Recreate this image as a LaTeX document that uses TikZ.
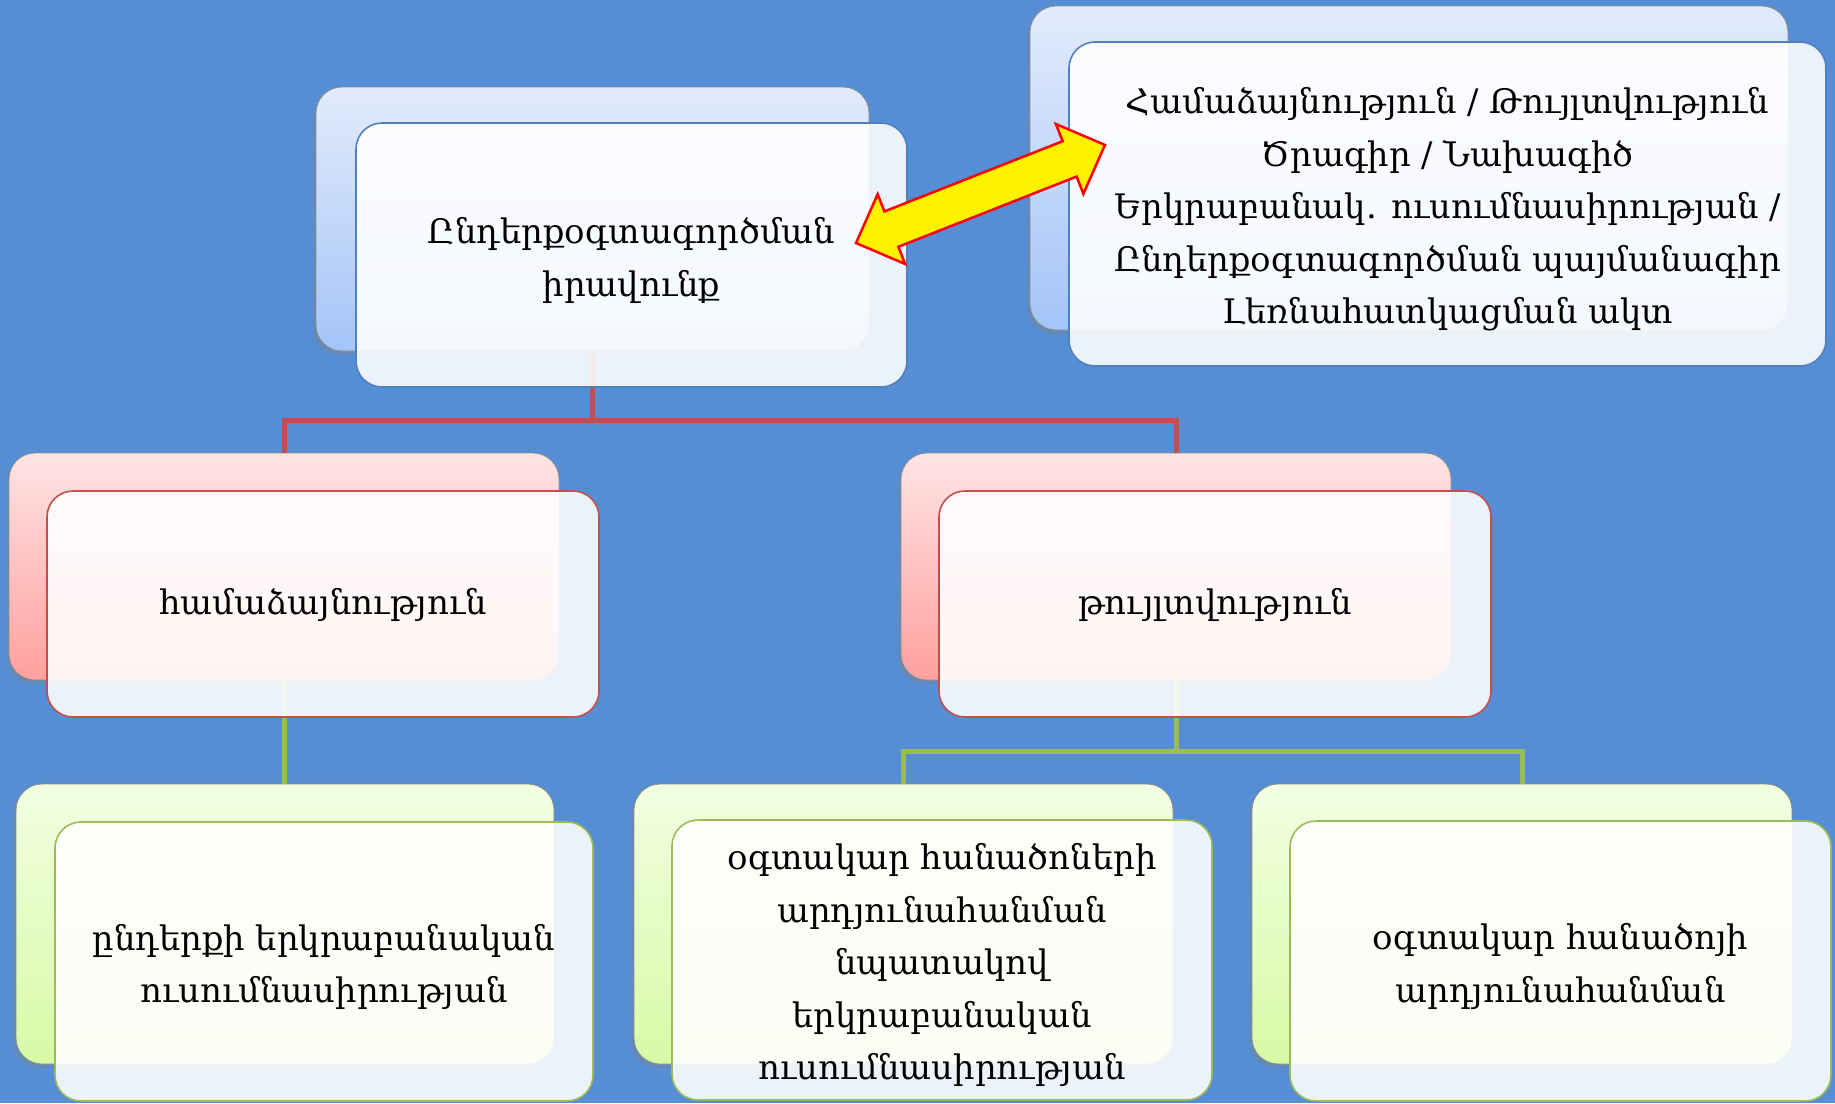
\documentclass[tikz,border=0pt]{standalone}
\usepackage{fontspec}
\setmainfont{DejaVu Serif}
\usetikzlibrary{shadows}
\definecolor{bgblue}{RGB}{85,142,213}
\definecolor{bluetop}{RGB}{226,235,251}
\definecolor{bluebot}{RGB}{164,196,248}
\definecolor{redtop}{RGB}{255,228,228}
\definecolor{redbot}{RGB}{255,160,158}
\definecolor{greentop}{RGB}{242,255,226}
\definecolor{greenbot}{RGB}{214,250,165}
\definecolor{blueline}{RGB}{79,129,189}
\definecolor{redline}{RGB}{192,80,77}
\definecolor{greenline}{RGB}{155,187,89}
\tikzset{
  backbox/.style={rounded corners=26pt, inner sep=0pt, outer sep=0pt,
    draw=black!45, line width=0.8pt,
    drop shadow={shadow xshift=-3pt, shadow yshift=-4pt, opacity=0.35}},
  bluebox/.style={backbox, top color=bluetop, bottom color=bluebot},
  redbox/.style={backbox, top color=redtop, bottom color=redbot},
  greenbox/.style={backbox, top color=greentop, bottom color=greenbot},
  frontbox/.style={rounded corners=26pt, inner sep=0pt, outer sep=0pt,
    fill=white, fill opacity=0.89, text opacity=1, line width=1.6pt,
    align=center, font=\fontsize{33.8}{52.5}\selectfont},
  redconn/.style={draw=redline, line width=5pt},
  greenconn/.style={draw=greenline, line width=5pt},
  blockarrow/.style={fill=yellow, draw=red, line width=2.5pt, line join=miter}
}
\begin{document}
\begin{tikzpicture}[x=1pt,y=-1pt]
\fill[bgblue] (0,0) rectangle (1835,1103);
\useasboundingbox (0,0) rectangle (1835,1103);

% back boxes
\node[bluebox, minimum width=553, minimum height=264] (rootB) at (592.5,219) {};
\node[bluebox, minimum width=758, minimum height=324] (trB) at (1409,168) {};
\node[redbox, minimum width=550, minimum height=227] (c1B) at (284,566.5) {};
\node[redbox, minimum width=550, minimum height=227] (c2B) at (1176,566.5) {};
\node[greenbox, minimum width=538, minimum height=280] (g1B) at (285,924) {};
\node[greenbox, minimum width=539, minimum height=280] (g2B) at (903.5,924) {};
\node[greenbox, minimum width=540, minimum height=280] (g3B) at (1522,924) {};

% connectors
\draw[redconn] (rootB.south) -- ++(0,69) coordinate (rj) -| (c1B.north);
\draw[redconn] (rj) -| (c2B.north);
\draw[greenconn] (c1B.south) -- (c1B.south |- g1B.north);
\draw[greenconn] (c2B.south) -- ++(0,71) coordinate (gj) -| (g2B.north);
\draw[greenconn] (gj) -| (g3B.north);

% front boxes
\node[frontbox, draw=blueline, minimum width=551, minimum height=264] (rootF) at (631.5,255)
  {\strut Ընդերքօգտագործման\\իրավունք};
\node[frontbox, draw=blueline, minimum width=757, minimum height=324] (trF) at (1447.5,204)
  {\strut Համաձայնություն / Թույլտվություն\\Ծրագիր / Նախագիծ\\Երկրաբանակ. ուսումնասիրության /\\Ընդերքօգտագործման պայմանագիր\\Լեռնահատկացման ակտ};
\node[frontbox, draw=redline, minimum width=552, minimum height=226] (c1F) at (323,604)
  {\strut համաձայնություն};
\node[frontbox, draw=redline, minimum width=552, minimum height=226] (c2F) at (1215,604)
  {\strut թույլտվություն};
\node[frontbox, draw=greenline, minimum width=538, minimum height=279] (g1F) at (324,961.5)
  {\strut ընդերքի երկրաբանական\\ուսումնասիրության};
\node[frontbox, draw=greenline, minimum width=540, minimum height=280] (g2F) at (942,960)
  {\strut օգտակար հանածոների\\արդյունահանման\\նպատակով\\երկրաբանական\\ուսումնասիրության};
\node[frontbox, draw=greenline, minimum width=541, minimum height=280] (g3F) at (1560.5,961)
  {\strut օգտակար հանածոյի\\արդյունահանման};

% double block arrow between rootF and trF
\begin{scope}[shift={(980.5,194)}, rotate=21.5]
\coordinate (arrL) at (-133.8,0);
\coordinate (arrR) at (133.8,0);
\draw[blockarrow] (arrL) -- (-95.8,37.5) -- (-95.8,19) -- (95.8,19) -- (95.8,37.5)
  -- (arrR) -- (95.8,-37.5) -- (95.8,-19) -- (-95.8,-19) -- (-95.8,-37.5) -- cycle;
\end{scope}
\end{tikzpicture}
\end{document}
